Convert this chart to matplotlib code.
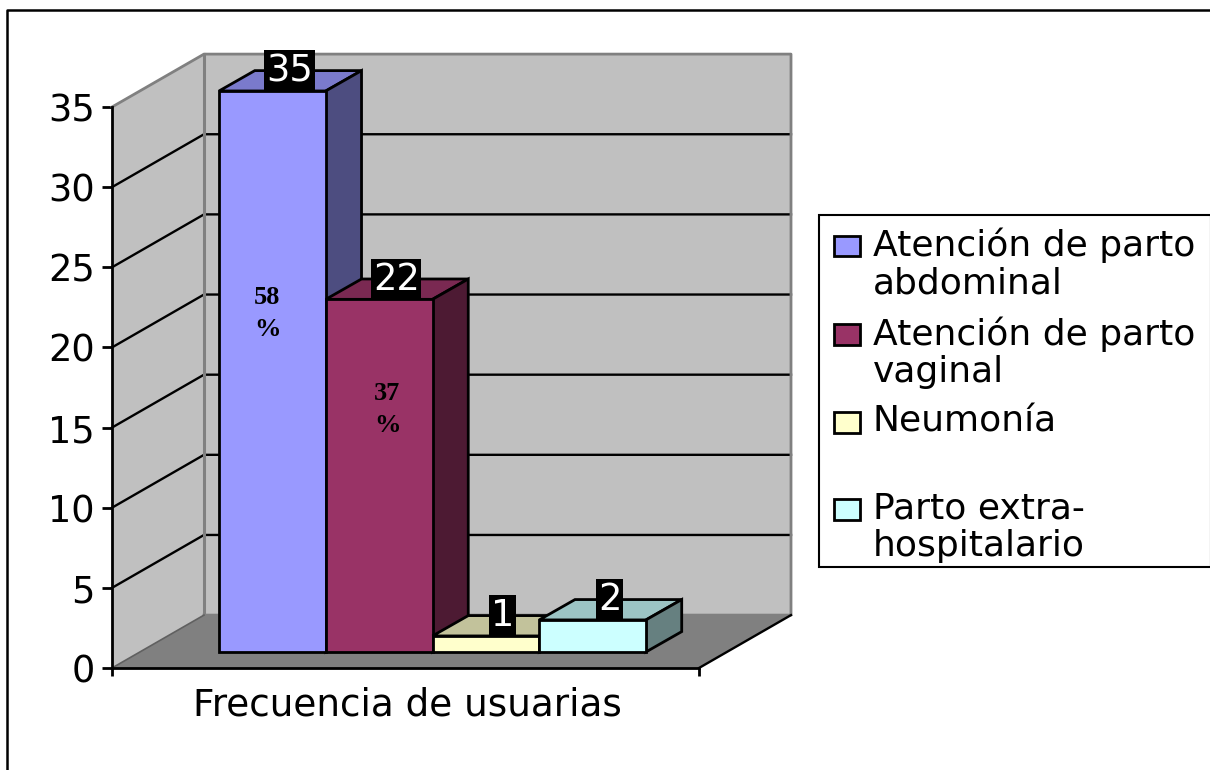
import matplotlib
matplotlib.use('Agg')
import matplotlib.pyplot as plt
from matplotlib.patches import Polygon, Patch, Rectangle
from matplotlib.lines import Line2D
from matplotlib.legend_handler import HandlerPatch

categories = ['Atención de parto\nabdominal', 'Atención de parto\nvaginal', 'Neumonía\n ', 'Parto extra-\nhospitalario']
values = [35, 22, 1, 2]
percent_labels = ['58\n%', '37\n%']
percent_x = [1.453, 2.577]
percent_y = [22.1, 16.1]
front_colors = ['#9999FF', '#993366', '#FFFFCC', '#CCFFFF']
side_colors = ['#4D4D80', '#4D1A33', '#80806A', '#668080']
top_colors = ['#7A7ACC', '#7A2952', '#C2C29B', '#9CC4C4']
y_ticks = [0, 5, 10, 15, 20, 25, 30, 35]
x_label = 'Frecuencia de usuarias'

W, H = 1210, 770
FONT = 'DejaVu Sans'

# all depths are in data units (1 x unit = one bar)
XMAX = 5.5
GAP = 0.75
WALL_DX, WALL_DY = 0.862, 3.3
FRONT_DX, FRONT_DY = 0.253, 1.0
BAR_DX, BAR_DY = 0.335, 1.27
LW = 2.0
GRID_LW = 1.7

fig = plt.figure(figsize=(W / 100, H / 100), dpi=100)
ax = fig.add_axes([112 / W, (H - 668) / H, 587 / W, 561 / H])
ax.set_xlim(0, XMAX)
ax.set_ylim(0, 35)
ax.patch.set_visible(False)

# walls and floor
ymax = y_ticks[-1]
ax.add_patch(Polygon([(0, 0), (WALL_DX, WALL_DY), (WALL_DX, ymax + WALL_DY), (0, ymax)],
                     fc='#C0C0C0', ec='none', clip_on=False, zorder=1))
ax.add_patch(Polygon([(WALL_DX, WALL_DY), (XMAX + WALL_DX, WALL_DY),
                      (XMAX + WALL_DX, ymax + WALL_DY), (WALL_DX, ymax + WALL_DY)],
                     fc='#C0C0C0', ec='none', clip_on=False, zorder=1))
ax.add_patch(Polygon([(0, 0), (XMAX, 0), (XMAX + WALL_DX, WALL_DY), (WALL_DX, WALL_DY)],
                     fc='#808080', ec='none', clip_on=False, zorder=1))

# grid lines on both walls
for t in y_ticks[1:-1]:
    ax.plot([0, WALL_DX, XMAX + WALL_DX], [t, t + WALL_DY, t + WALL_DY], color='black', lw=GRID_LW,
            clip_on=False, zorder=2, solid_joinstyle='miter')

# grey wall edges
ax.plot([0, WALL_DX, XMAX + WALL_DX, XMAX + WALL_DX, WALL_DX],
        [ymax, ymax + WALL_DY, ymax + WALL_DY, WALL_DY, WALL_DY],
        color='#808080', lw=2, clip_on=False, zorder=2)
ax.plot([WALL_DX, WALL_DX], [WALL_DY, ymax + WALL_DY], color='#808080', lw=2.2, clip_on=False, zorder=2)
ax.plot([0, WALL_DX], [0, WALL_DY], color='#606060', lw=1.2, clip_on=False, zorder=2)
ax.plot([XMAX, XMAX + WALL_DX], [0, WALL_DY], color='black', lw=GRID_LW, clip_on=False, zorder=2)

# bars, left to right so each one covers the side of the one before
for i, v in enumerate(values):
    x0 = GAP + i + FRONT_DX
    x1 = x0 + 1
    z = 3 + i
    y0 = FRONT_DY
    y1 = FRONT_DY + v
    ax.add_patch(Polygon([(x0, y1), (x1, y1), (x1 + BAR_DX, y1 + BAR_DY), (x0 + BAR_DX, y1 + BAR_DY)],
                         fc=top_colors[i], ec='black', lw=LW, clip_on=False, zorder=z))
    ax.add_patch(Polygon([(x1, y0), (x1 + BAR_DX, y0 + BAR_DY), (x1 + BAR_DX, y1 + BAR_DY), (x1, y1)],
                         fc=side_colors[i], ec='black', lw=LW, clip_on=False, zorder=z))
    ax.bar(x0, v, width=1, bottom=y0, align='edge', color=front_colors[i], edgecolor='black',
           linewidth=LW, clip_on=False, zorder=z)
    ax.annotate(str(v), xy=(x0 + 0.66, y1), xytext=(0, 1.3), textcoords='offset points',
                ha='center', va='bottom', color='white', fontsize=26.5, family=FONT, zorder=10,
                annotation_clip=False,
                bbox=dict(boxstyle='square,pad=0.05', fc='black', ec='black', lw=0))

for i, lab in enumerate(percent_labels):
    ax.text(percent_x[i], percent_y[i], lab, ha='center', va='center', fontsize=19,
            family='Liberation Serif', fontweight='bold', color='black', zorder=10, linespacing=1.5)

# axes
for s in ['top', 'right']:
    ax.spines[s].set_visible(False)
for s in ['left', 'bottom']:
    ax.spines[s].set_linewidth(LW)
    ax.spines[s].set_zorder(9)
ax.set_yticks(y_ticks)
ax.set_xticks([0, XMAX], ['', ''])
ax.tick_params(axis='y', length=7.2, width=LW, pad=5, labelsize=26.5)
ax.tick_params(axis='x', length=5.5, width=LW)
for t in ax.get_yticklabels():
    t.set_family(FONT)
ax.set_xlabel(x_label, fontsize=26.9, family=FONT, labelpad=4, x=0.503)


# legend keys sit next to the first line of each label
def first_line_key(legend, orig_handle, xdescent, ydescent, width, height, fontsize):
    return Rectangle((-xdescent + 5, -ydescent + 13.3), 18.7, height)


# legend frame is separate, the rows sit a little lower than centred
fig.add_artist(Rectangle((819 / W, (H - 567) / H), 392 / W, 352 / H, transform=fig.transFigure,
                         fc='white', ec='black', lw=1.5, zorder=4))
handles = [Patch(fc=c, ec='black', lw=LW) for c in front_colors]
leg = fig.legend(handles, categories, loc='lower left', bbox_to_anchor=(819 / W, (H - 571) / H, 392 / W, 352 / H),
                 mode='expand', prop={'family': FONT, 'size': 26}, frameon=False,
                 borderaxespad=0, handlelength=0.9, handleheight=0.5, handletextpad=0.37,
                 labelspacing=0.44, borderpad=0.22,
                 handler_map={Patch: HandlerPatch(patch_func=first_line_key)})
for t in leg.get_texts():
    t.set_linespacing(1.12)

# outer frame of the picture
fig.add_artist(Line2D([7 / W, 7 / W, 1], [0, (H - 10) / H, (H - 10) / H], color='black', lw=1.8))

fig.savefig('out.png', dpi=100)
